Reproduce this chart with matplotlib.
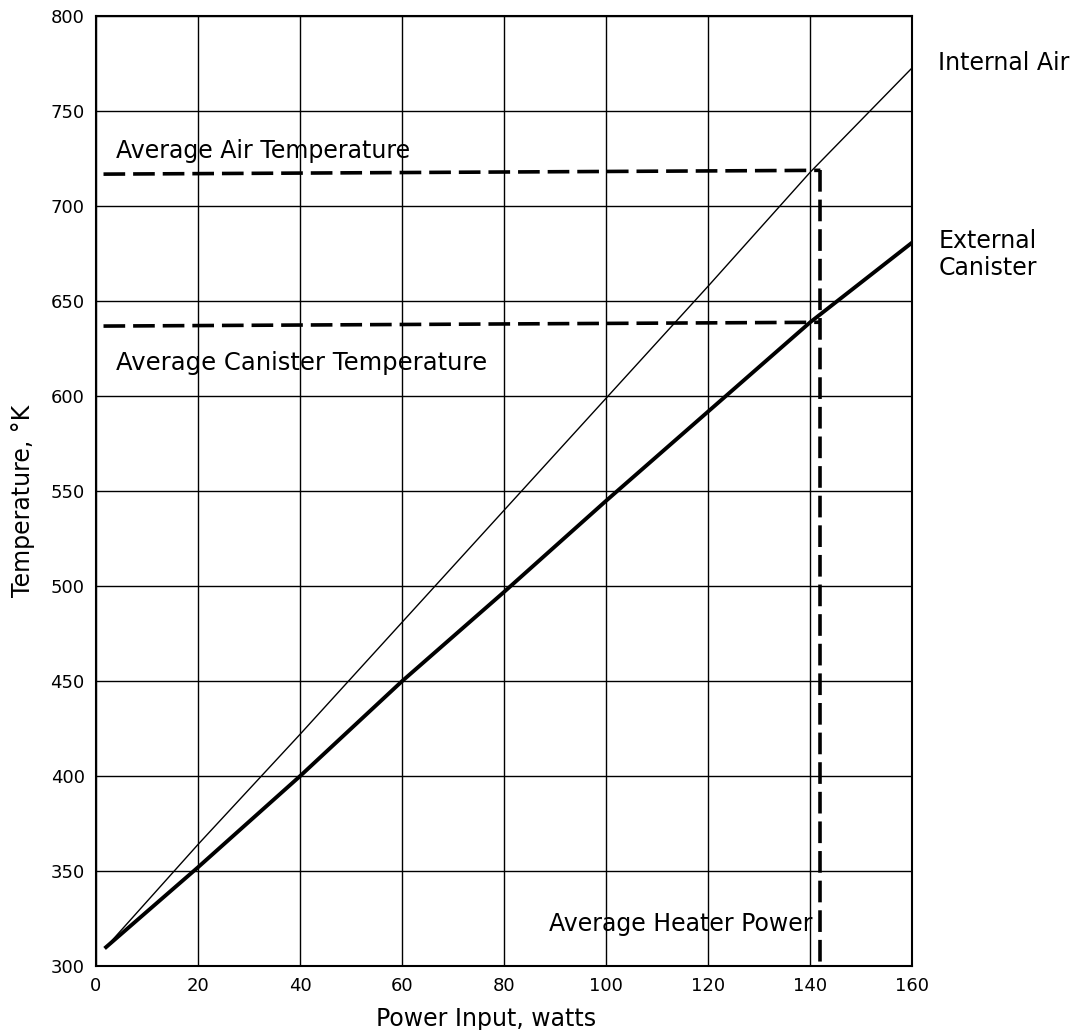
import matplotlib
matplotlib.use('Agg')
import matplotlib.pyplot as plt
import numpy as np

plt.rcParams['font.family'] = ['DejaVu Sans']

# power input (watts) and temperatures (K)
power = [2, 20, 40, 60, 80, 100, 120, 140, 160]
internal_air = [310, 364, 422, 481, 540, 599, 658, 718, 773]
external_canister = [310, 352, 400, 450, 497, 545, 592, 639, 681]

avg_air_temp = 717
avg_canister_temp = 637
avg_heater_power = 142

x_ticks = [0, 20, 40, 60, 80, 100, 120, 140, 160]
y_ticks = [300, 350, 400, 450, 500, 550, 600, 650, 700, 750, 800]

fig = plt.figure(figsize=(10.77, 10.30), dpi=100)
ax = fig.add_axes([0.089, 0.062, 0.758, 0.922])

ax.plot(power, internal_air, '-', c='k', linewidth=1.0)
ax.plot(power, external_canister, '-', c='k', linewidth=2.8)

# average levels
dash = (6, 2.2)
ax.plot([1.5, avg_heater_power], [avg_air_temp, avg_air_temp + 2], c='k', lw=2.6, dashes=dash)
ax.plot([1.5, avg_heater_power], [avg_canister_temp, avg_canister_temp + 2], c='k', lw=2.6, dashes=dash)
ax.plot([avg_heater_power, avg_heater_power], [avg_air_temp + 2, 300], c='k', lw=2.6, dashes=dash)

ax.text(4, 723, 'Average Air Temperature', fontsize=17, va='bottom')
ax.text(4, 624, 'Average Canister Temperature', fontsize=17.5, va='top')
ax.text(140.5, 322, 'Average Heater Power', fontsize=17, ha='right', va='center')

ax.text(1.032, 0.951, 'Internal Air', transform=ax.transAxes, fontsize=17, va='center')
ax.text(1.032, 0.749, 'External\nCanister', transform=ax.transAxes, fontsize=17, va='center',
        linespacing=1.15)

ax.set_xlim(0, 160)
ax.set_ylim(300, 800)
ax.set_xticks(x_ticks)
ax.set_yticks(y_ticks)
ax.tick_params(length=0, labelsize=13, pad=8)
ax.grid(True, color='k', linewidth=1.0)
for s in ax.spines.values():
    s.set_linewidth(1.5)

ax.set_xlabel('Power Input, watts', fontsize=17)
ax.set_ylabel('Temperature, °K', fontsize=17)
ax.xaxis.set_label_coords(0.478, -0.043)
ax.yaxis.set_label_coords(-0.074, 0.49)

fig.savefig('out.png', dpi=100)
